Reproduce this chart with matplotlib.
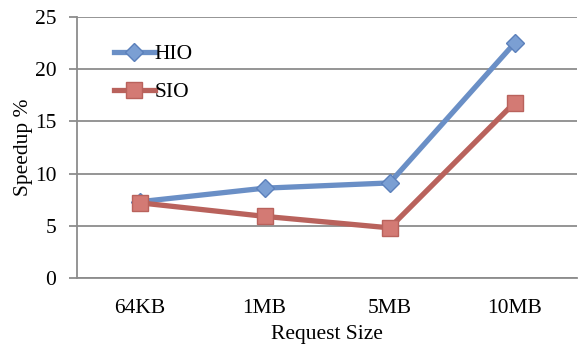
import matplotlib.pyplot as plt

sizes = ['64KB', '1MB', '5MB', '10MB']
hio = [7.3, 8.6, 9.1, 22.5]
sio = [7.2, 5.9, 4.8, 16.8]

plt.rcParams['font.family'] = ['Liberation Serif', 'DejaVu Serif']

fig = plt.figure(figsize=(5.79, 3.51), dpi=100)
ax = fig.add_axes([0.133, 0.208, 0.864, 0.744])

x = [i + 0.5 for i in range(len(sizes))]
ax.plot(x, hio, color='#6a8fc6', lw=3.8, marker='D', ms=9,
        markerfacecolor='#7b9fd3', markeredgecolor='#5b80bb', mew=1, label='HIO')
ax.plot(x, sio, color='#b9625c', lw=3.8, marker='s', ms=11,
        markerfacecolor='#d37a74', markeredgecolor='#b9625c', mew=1, label='SIO')

ax.set_xlim(0, len(sizes))
ax.set_ylim(0, 25)
ax.set_yticks(range(0, 26, 5))
ax.set_xticks(x)
ax.set_xticklabels(sizes)
ax.yaxis.grid(True, color='#8c8c8c', lw=1.3)
ax.set_axisbelow(True)

for s in ['top', 'right']:
    ax.spines[s].set_visible(False)
for s in ['left', 'bottom']:
    ax.spines[s].set_color('#8c8c8c')
    ax.spines[s].set_linewidth(1.3)

ax.tick_params(axis='y', length=6, color='#8c8c8c', width=1.3, labelsize=15.5, pad=9)
ax.tick_params(axis='x', length=0, labelsize=15.5, pad=15)

ax.set_xlabel('Request Size', fontsize=15.5, labelpad=5)
ax.set_ylabel('Speedup %', fontsize=15.5, labelpad=1)

leg = ax.legend(loc='upper left', bbox_to_anchor=(0.035, 0.97), frameon=False,
                fontsize=15.5, handlelength=1.9, handletextpad=0.0, labelspacing=0.85)

fig.savefig('out.png', dpi=100)
